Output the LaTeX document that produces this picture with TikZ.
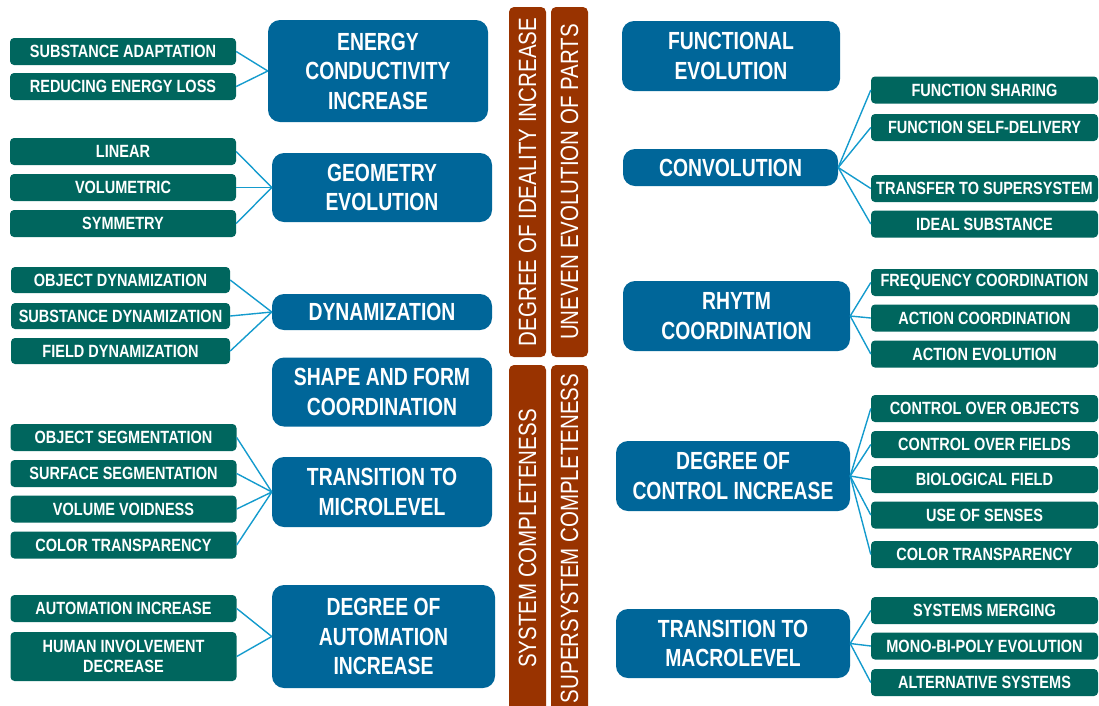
\documentclass[tikz,border=0pt]{standalone}
\usepackage{fontspec}
\newfontfamily\narrowfont{Liberation Sans}[FakeStretch=0.82]
\newfontfamily\tallfont{Liberation Sans}[FakeStretch=0.78]
\newcommand\lawfont{\tallfont\bfseries\fontsize{24.8}{29.5}\selectfont}
\newcommand\leaffont{\narrowfont\bfseries\fontsize{17.7}{20}\selectfont}
\newcommand\pillarfont{\narrowfont\fontsize{25}{28}\selectfont}

\begin{document}
\begin{tikzpicture}[x=1pt, y=-1pt]
            % Define colors
            \definecolor{lawblue}{RGB}{0, 102, 153}
            \definecolor{leafgreen}{RGB}{0, 102, 94}
            \definecolor{pillarbrown}{RGB}{153, 51, 0}
            \definecolor{linkblue}{RGB}{20, 155, 205}

            \tikzset{
                law/.style={fill=lawblue, rounded corners=12pt, text=white, font=\lawfont, align=center, inner sep=0pt},
                leaf/.style={fill=leafgreen, rounded corners=4pt, text=white, font=\leaffont, align=center, inner sep=0pt, minimum height=27},
                pillar/.style={fill=pillarbrown, rounded corners=5pt, text=white, font=\pillarfont, inner sep=0pt, minimum height=37, rotate=90},
                link/.style={draw=linkblue, line width=1.4pt}
            }

            \useasboundingbox (0, 0) rectangle (1099, 705);

            % Central bars
            \node[pillar, minimum width=350] (ideality) at (527.5, 182) {DEGREE OF IDEALITY INCREASE};
            \node[pillar, minimum width=350] (uneven) at (569.5, 182) {UNEVEN EVOLUTION OF PARTS};
            \node[pillar, minimum width=347] (system) at (527.5, 538.5) {SYSTEM COMPLETENESS};
            \node[pillar, minimum width=347] (supersystem) at (569.5, 538.5) {SUPERSYSTEM COMPLETENESS};

            % Left laws
            \node[law, minimum width=220, minimum height=102] (energy) at (378, 71) {ENERGY\\CONDUCTIVITY\\INCREASE};
            \node[law, minimum width=220, minimum height=69] (geometry) at (382, 187.5) {GEOMETRY\\EVOLUTION};
            \node[law, minimum width=220, minimum height=36] (dynamization) at (382, 312) {DYNAMIZATION};
            \node[law, minimum width=220, minimum height=69] (shape) at (382, 392) {SHAPE AND FORM\\COORDINATION};
            \node[law, minimum width=220, minimum height=70] (micro) at (382, 492) {TRANSITION TO\\MICROLEVEL};
            \node[law, minimum width=223, minimum height=103] (automation) at (383.5, 636.5) {DEGREE OF\\AUTOMATION\\INCREASE};

            % Left leaves
            \node[leaf, minimum width=226] (adaptation) at (123, 51.5) {SUBSTANCE ADAPTATION};
            \node[leaf, minimum width=226] (loss) at (123, 86.5) {REDUCING ENERGY LOSS};
            \node[leaf, minimum width=226] (linear) at (123, 151.5) {LINEAR};
            \node[leaf, minimum width=226] (volumetric) at (123, 187.5) {VOLUMETRIC};
            \node[leaf, minimum width=226] (symmetry) at (123, 223.5) {SYMMETRY};
            \node[leaf, minimum width=219, minimum height=26] (objdyn) at (120.5, 280) {OBJECT DYNAMIZATION};
            \node[leaf, minimum width=219, minimum height=26] (subdyn) at (120.5, 316) {SUBSTANCE DYNAMIZATION};
            \node[leaf, minimum width=219, minimum height=26] (fielddyn) at (120.5, 351) {FIELD DYNAMIZATION};
            \node[leaf, minimum width=226] (objseg) at (123.5, 437.5) {OBJECT SEGMENTATION};
            \node[leaf, minimum width=226] (surfseg) at (123.5, 473.5) {SURFACE SEGMENTATION};
            \node[leaf, minimum width=226] (voidness) at (123.5, 509) {VOLUME VOIDNESS};
            \node[leaf, minimum width=226] (transpleft) at (123.5, 545) {COLOR TRANSPARENCY};
            \node[leaf, minimum width=226] (autoinc) at (123.5, 608.5) {AUTOMATION INCREASE};
            \node[leaf, minimum width=226, minimum height=49] (human) at (123.5, 656.5) {HUMAN INVOLVEMENT\\DECREASE};

            % Right laws
            \node[law, minimum width=218, minimum height=70] (functional) at (731, 56) {FUNCTIONAL\\EVOLUTION};
            \node[law, minimum width=215, minimum height=37] (convolution) at (730.5, 167.5) {CONVOLUTION};
            \node[law, minimum width=227, minimum height=70] (rhythm) at (736.5, 316) {RHYTM\\COORDINATION};
            \node[law, minimum width=234, minimum height=70] (control) at (733, 476) {DEGREE OF\\CONTROL INCREASE};
            \node[law, minimum width=234, minimum height=69] (macro) at (733, 643.5) {TRANSITION TO\\MACROLEVEL};

            % Right leaves
            \node[leaf, minimum width=227] (sharing) at (984.5, 90) {FUNCTION SHARING};
            \node[leaf, minimum width=227] (selfdel) at (984.5, 127.5) {FUNCTION SELF-DELIVERY};
            \node[leaf, minimum width=227] (transfer) at (984.5, 188.5) {TRANSFER TO SUPERSYSTEM};
            \node[leaf, minimum width=227] (ideal) at (984.5, 224) {IDEAL SUBSTANCE};
            \node[leaf, minimum width=227] (frequency) at (984.5, 282.5) {FREQUENCY COORDINATION};
            \node[leaf, minimum width=227] (actcoord) at (984.5, 318) {ACTION COORDINATION};
            \node[leaf, minimum width=227] (actevol) at (984.5, 354) {ACTION EVOLUTION};
            \node[leaf, minimum width=227] (objects) at (984.5, 408.5) {CONTROL OVER OBJECTS};
            \node[leaf, minimum width=227] (fields) at (984.5, 444.5) {CONTROL OVER FIELDS};
            \node[leaf, minimum width=227] (biofield) at (984.5, 479.5) {BIOLOGICAL FIELD};
            \node[leaf, minimum width=227] (senses) at (984.5, 515) {USE OF SENSES};
            \node[leaf, minimum width=227] (transpright) at (984.5, 554.5) {COLOR TRANSPARENCY};
            \node[leaf, minimum width=227] (merging) at (984.5, 610.5) {SYSTEMS MERGING};
            \node[leaf, minimum width=227] (monobipoly) at (984.5, 646) {MONO-BI-POLY EVOLUTION};
            \node[leaf, minimum width=227] (alternative) at (984.5, 682.5) {ALTERNATIVE SYSTEMS};

            % Links on the left
            \foreach \leafname/\lawname in {adaptation/energy, loss/energy,
                linear/geometry, volumetric/geometry, symmetry/geometry,
                objdyn/dynamization, subdyn/dynamization, fielddyn/dynamization,
                objseg/micro, surfseg/micro, voidness/micro, transpleft/micro,
                autoinc/automation, human/automation}
                \draw[link] (\leafname.east) -- (\lawname.west);

            % Links on the right
            \foreach \lawname/\leafname in {convolution/sharing, convolution/selfdel, convolution/transfer, convolution/ideal,
                rhythm/frequency, rhythm/actcoord, rhythm/actevol,
                control/objects, control/fields, control/biofield, control/senses, control/transpright,
                macro/merging, macro/monobipoly, macro/alternative}
                \draw[link] (\lawname.east) -- (\leafname.west);
        \end{tikzpicture}
\end{document}
